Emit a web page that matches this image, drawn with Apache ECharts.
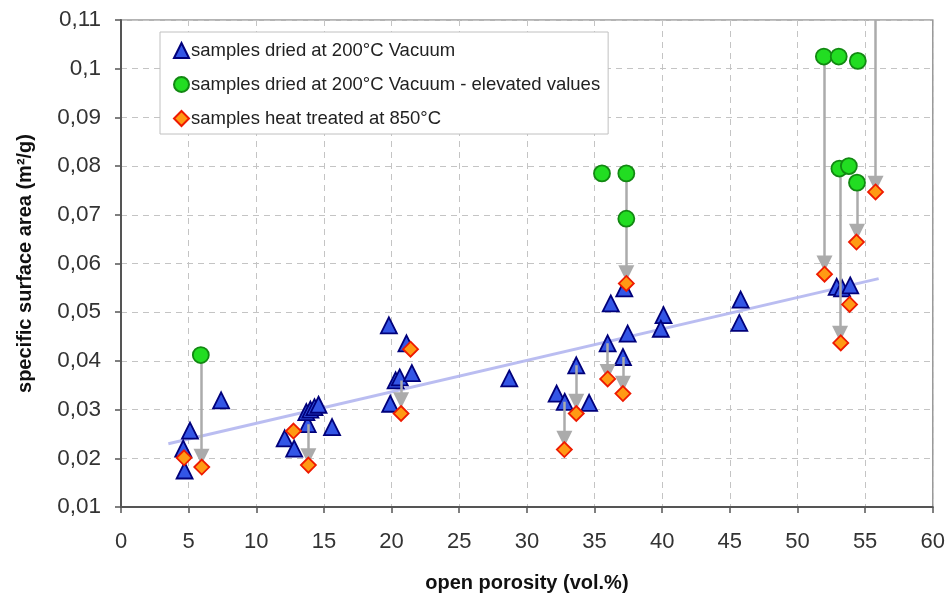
<!DOCTYPE html>
<html>
<head>
<meta charset="utf-8">
<script src="https://cdn.jsdelivr.net/npm/echarts@6/dist/echarts.min.js"></script>
<style>
html,body{margin:0;padding:0;background:#fff;}
#chart{width:948px;height:599px;}
</style>
</head>
<body>
<div id="chart"></div>
<script>
// Series names
var nameDried = 'samples dried at 200°C Vacuum';
var nameElevated = 'samples dried at 200°C Vacuum - elevated values';
var nameHeat = 'samples heat treated at 850°C';

// [open porosity, specific surface area]
var driedPoints = [
  [4.6,0.022],[4.7,0.0175],[5.1,0.0257],[7.4,0.0319],
  [12.1,0.0241],[12.8,0.022],[13.8,0.027],[13.7,0.0295],[14.0,0.030],[14.3,0.0305],[14.6,0.031],[15.6,0.0264],
  [19.8,0.0473],[19.9,0.0312],[20.3,0.036],[20.6,0.0366],[21.5,0.0375],[21.1,0.0436],
  [28.7,0.0364],
  [32.2,0.0333],[32.8,0.0316],[33.65,0.0391],[34.6,0.0314],
  [35.97,0.0436],[36.2,0.0518],[37.1,0.0408],[37.45,0.0456],[37.2,0.0549],
  [40.1,0.0494],[39.9,0.0466],
  [45.8,0.0526],[45.7,0.0478],
  [52.9,0.0552],[53.3,0.0549],[53.9,0.0555]
];
var elevatedPoints = [
  [5.9,0.0412],[35.55,0.0785],[37.35,0.0785],[37.35,0.0692],
  [51.95,0.1025],[53.05,0.1025],[54.46,0.1016],
  [53.1,0.0795],[53.8,0.080],[54.4,0.0766]
];
var heatPoints = [
  [4.66,0.0201],[5.97,0.0182],[12.75,0.0256],[13.85,0.0186],
  [21.4,0.0424],[20.7,0.0292],
  [32.77,0.0218],[33.65,0.0292],[35.97,0.0363],[37.1,0.0333],[37.35,0.0559],
  [52.0,0.0578],[54.36,0.0644],[55.77,0.0747],[53.85,0.0516],[53.2,0.0437]
];
// arrows: [x, from value, to value (arrow tip)]
var arrows = [
  [5.95,0.0412,0.0203],[13.85,0.027,0.0204],[20.7,0.036,0.0319],
  [32.77,0.0316,0.024],[33.65,0.0391,0.0316],[35.97,0.0436,0.0377],[37.1,0.0408,0.0353],
  [37.35,0.0785,0.058],[52.0,0.1025,0.060],[53.15,0.0795,0.0456],[54.4,0.0766,0.0665],
  [55.77,0.11,0.0764]
];
// linear trend of dried samples: endpoints
var trendX = [3.5, 56.0];
var trendY = [0.023, 0.0569];

var xTicks = {min:0, max:60, interval:5};
var yTicks = {min:0.01, max:0.11, interval:0.01};

var chart = echarts.init(document.getElementById('chart'), null, {renderer:'canvas'});
var font = 'Liberation Sans, Arial, sans-serif';

var arrowData = arrows.map(function(a){ return {coords:[[a[0],a[1]],[a[0],a[2]]]}; });
var trendData = trendX.map(function(x,i){ return [x, trendY[i]]; });

var option = {
  backgroundColor:'#fff',
  animation:false,
  grid:{left:121, right:15, top:20, bottom:92, show:true, borderColor:'#9a9a9a', borderWidth:1.5},
  legend:{
    data:[nameDried, nameElevated, nameHeat],
    orient:'vertical', left:160, top:32,
    padding:[9,8,6,13], itemGap:15, itemWidth:15, itemHeight:15,
    backgroundColor:'#fff', borderColor:'#c0c0c0', borderWidth:1,
    textStyle:{fontFamily:font, fontSize:18.5, color:'#222', padding:[0,0,0,-3]}
  },
  xAxis:{
    type:'value', min:xTicks.min, max:xTicks.max, interval:xTicks.interval,
    name:'open porosity (vol.%)', nameLocation:'middle', nameGap:66,
    nameTextStyle:{fontFamily:font, fontSize:20, fontWeight:'bold', color:'#111'},
    axisLine:{show:true, onZero:false, lineStyle:{color:'#555', width:2}},
    axisTick:{show:true, length:6, lineStyle:{color:'#555', width:1.5}},
    axisLabel:{fontFamily:font, fontSize:22, color:'#333', margin:24},
    splitLine:{show:true, lineStyle:{color:'#c4c4c4', type:[6,5], width:1}}
  },
  yAxis:{
    type:'value', min:yTicks.min, max:yTicks.max, interval:yTicks.interval,
    name:'specific surface area (m²/g)', nameLocation:'middle', nameGap:86,
    nameTextStyle:{fontFamily:font, fontSize:20, fontWeight:'bold', color:'#111'},
    axisLine:{show:true, onZero:false, lineStyle:{color:'#555', width:2}},
    axisTick:{show:true, length:6, lineStyle:{color:'#555', width:1.5}},
    axisLabel:{fontFamily:font, fontSize:22.5, color:'#333', margin:20,
      formatter:function(v){ return String(+v.toFixed(3)).replace('.', ','); }},
    splitLine:{show:true, lineStyle:{color:'#c4c4c4', type:[6,5], width:1}}
  },
  series:[
    {
      name:'trend', type:'line', data:trendData, symbol:'none', silent:true, z:1,
      lineStyle:{color:'#b3b6f0', width:3, opacity:0.9}
    },
    {
      name:nameDried, type:'scatter', data:driedPoints, symbol:'triangle', symbolSize:16, z:3,
      itemStyle:{color:'#3355e6', borderColor:'#00007a', borderWidth:1.8, opacity:1}
    },
    {
      name:'arrows', type:'lines', coordinateSystem:'cartesian2d', data:arrowData, z:4, silent:true,
      symbol:['none','triangle'], symbolSize:[16,16],
      lineStyle:{color:'#ababab', width:2.5, opacity:1, curveness:0}
    },
    {
      name:nameElevated, type:'scatter', data:elevatedPoints, symbol:'circle', symbolSize:16, z:5,
      itemStyle:{color:'#22dd22', borderColor:'#128812', borderWidth:1.8, opacity:1}
    },
    {
      name:nameHeat, type:'scatter', data:heatPoints, symbol:'diamond', symbolSize:15, z:6,
      itemStyle:{color:'#ff9a14', borderColor:'#ee1a00', borderWidth:1.8, opacity:1}
    }
  ]
};
chart.setOption(option);
</script>
</body>
</html>
